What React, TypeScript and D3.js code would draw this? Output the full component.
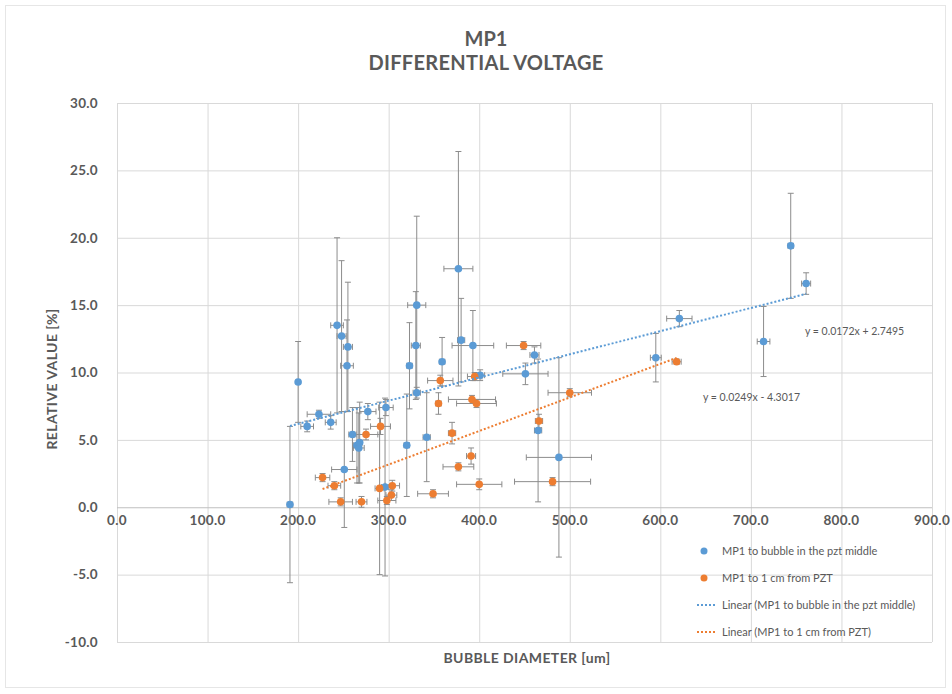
import React from "react";
import * as d3 from "d3";

// MP1 to bubble in the pzt middle
const blueX = [191, 200, 210, 223, 236, 243, 248, 255, 254, 251, 260, 265, 267, 268, 277, 297, 320, 323, 330, 331, 342, 377, 380, 393, 461, 331, 359, 401, 451, 465, 488, 595, 621, 744, 761, 714, 296];
const blueY = [0.2, 9.3, 6.0, 6.9, 6.3, 13.5, 12.7, 11.9, 10.5, 2.8, 5.4, 4.6, 4.4, 4.8, 7.1, 7.4, 4.6, 10.5, 12.0, 8.5, 5.2, 17.7, 12.4, 12.0, 11.3, 15.0, 10.8, 9.8, 9.9, 5.7, 3.7, 11.1, 14.0, 19.4, 16.6, 12.3, 1.5];
const blueXErr = [3, 2, 7, 13, 6, 7, 5, 5, 7, 14, 4, 4, 6, 3, 9, 8, 3, 3, 5, 4, 4, 16, 4, 23, 5, 10, 3, 5, 25, 4, 36, 6, 14, 3, 5, 7, 4];
const blueYErr = [5.8, 3.0, 0.4, 0.3, 0.5, 6.5, 5.6, 4.8, 3.4, 4.3, 2.0, 2.8, 2.6, 3.0, 0.6, 0.6, 3.8, 3.2, 4.0, 0.4, 3.3, 8.7, 3.1, 2.6, 0.6, 6.6, 1.8, 0.4, 0.8, 5.3, 7.4, 1.8, 0.6, 3.9, 0.8, 2.6, 6.6];

// MP1 to 1 cm from PZT
const orangeX = [227, 240, 247, 270, 275, 291, 290, 304, 303, 298, 357, 355, 392, 397, 395, 370, 391, 377, 400, 349, 449, 466, 500, 481, 618];
const orangeY = [2.2, 1.6, 0.4, 0.4, 5.4, 6.0, 1.4, 1.6, 0.9, 0.5, 9.4, 7.7, 8.0, 7.7, 9.7, 5.5, 3.8, 3.0, 1.7, 1.0, 12.0, 6.4, 8.5, 1.9, 10.8];
const orangeXErr = [8, 7, 13, 6, 13, 11, 5, 8, 6, 10, 14, 3, 26, 22, 8, 4, 5, 17, 25, 17, 19, 4, 24, 42, 5];
const orangeYErr = [0.3, 0.3, 0.3, 0.4, 0.4, 0.6, 6.4, 0.4, 0.4, 0.3, 0.4, 0.8, 0.3, 0.3, 0.3, 0.8, 0.6, 0.3, 0.4, 0.3, 0.3, 0.5, 0.3, 0.3, 0.2];

// trendline equations as printed on the chart
const blueFit = [0.0172, 2.7495];
const orangeFit = [0.0249, -4.3017];

const xTicks = [0, 100, 200, 300, 400, 500, 600, 700, 800, 900];
const yTicks = [-10, -5, 0, 5, 10, 15, 20, 25, 30];

const legendLabels = [
  "MP1 to bubble in the pzt middle",
  "MP1 to 1 cm from PZT",
  "Linear (MP1 to bubble in the pzt middle)",
  "Linear (MP1 to 1 cm from PZT)",
];

const BLUE = "#5b9bd5";
const ORANGE = "#ed7d31";
const TEXT = "#595959";
const FONT = "Lato, 'Open Sans', sans-serif";

const fmt = (v) => v.toFixed(1); // plain hyphen for negatives, like Excel

const App = () => {
  const svgRef = React.useRef(null);
  const W = 952;
  const H = 694;

  React.useEffect(() => {
    const xScale = d3.scaleLinear().domain([0, 900]).range([117, 932]);
    const yScale = d3.scaleLinear().domain([-10, 30]).range([642, 103]);

    const svg = d3.select(svgRef.current);
    svg.selectAll("*").remove();

    svg.append("rect")
      .attr("x", 5.5).attr("y", 5.5)
      .attr("width", 940).attr("height", 682)
      .attr("fill", "#fff")
      .attr("stroke", "#e6e6e6");

    // title
    svg.append("text")
      .attr("x", 486).attr("y", 46)
      .attr("text-anchor", "middle")
      .attr("font-family", FONT).attr("font-size", 20).attr("font-weight", 700)
      .attr("fill", TEXT)
      .text("MP1");
    svg.append("text")
      .attr("x", 486).attr("y", 70)
      .attr("text-anchor", "middle")
      .attr("font-family", FONT).attr("font-size", 20).attr("font-weight", 700)
      .attr("letter-spacing", 0.3)
      .attr("fill", TEXT)
      .text("DIFFERENTIAL VOLTAGE");

    // grid
    const xAxis = d3.axisBottom(xScale)
      .tickValues(xTicks)
      .tickSize(-(642 - 103))
      .tickFormat(fmt);
    const xg = svg.append("g").attr("transform", "translate(0,642)").call(xAxis);
    xg.select(".domain").remove();
    xg.selectAll(".tick line").attr("stroke", "#d9d9d9");
    xg.selectAll(".tick text").remove();

    const yAxis = d3.axisLeft(yScale)
      .tickValues(yTicks)
      .tickSize(-(932 - 117))
      .tickFormat(fmt);
    const yg = svg.append("g").attr("transform", "translate(117,0)").call(yAxis);
    yg.select(".domain").remove();
    yg.selectAll(".tick line").attr("stroke", (d) => (d === 0 ? "#bfbfbf" : "#d9d9d9"));
    yg.selectAll(".tick text")
      .attr("x", -19)
      .attr("font-family", FONT).attr("font-size", 13.5).attr("font-weight", 700)
      .attr("letter-spacing", 0.3)
      .attr("fill", TEXT);

    // x tick labels sit under the zero line
    svg.append("g").selectAll("text")
      .data(xTicks)
      .enter()
      .append("text")
      .attr("x", (d) => xScale(d))
      .attr("y", yScale(0) + 18)
      .attr("text-anchor", "middle")
      .attr("font-family", FONT).attr("font-size", 13.5).attr("font-weight", 700)
      .attr("letter-spacing", 0.3)
      .attr("fill", TEXT)
      .text(fmt);

    // axis titles
    svg.append("text")
      .attr("transform", "translate(57,379) rotate(-90)")
      .attr("text-anchor", "middle")
      .attr("font-family", FONT).attr("font-size", 14).attr("font-weight", 700)
      .attr("letter-spacing", 0.4)
      .attr("fill", TEXT)
      .text("RELATIVE VALUE [%]");
    svg.append("text")
      .attr("x", 527).attr("y", 663)
      .attr("text-anchor", "middle")
      .attr("font-family", FONT).attr("font-size", 14).attr("font-weight", 700)
      .attr("letter-spacing", 0.4)
      .attr("fill", TEXT)
      .text("BUBBLE DIAMETER [um]");

    const series = [
      { xs: blueX, ys: blueY, xe: blueXErr, ye: blueYErr, color: BLUE },
      { xs: orangeX, ys: orangeY, xe: orangeXErr, ye: orangeYErr, color: ORANGE },
    ];

    series.forEach((s) => {
      const pts = s.xs.map((x, i) => ({ x, y: s.ys[i], xe: s.xe[i], ye: s.ye[i] }));
      const eb = svg.append("g").attr("stroke", "#8c8c8c").attr("stroke-width", 1).attr("fill", "none");
      const cap = 3;
      pts.forEach((d) => {
        const cx = xScale(d.x);
        const cy = yScale(d.y);
        const x0 = xScale(d.x - d.xe);
        const x1 = xScale(d.x + d.xe);
        const y0 = yScale(d.y - d.ye);
        const y1 = yScale(d.y + d.ye);
        const p = d3.path();
        p.moveTo(x0, cy); p.lineTo(x1, cy);
        p.moveTo(x0, cy - cap); p.lineTo(x0, cy + cap);
        p.moveTo(x1, cy - cap); p.lineTo(x1, cy + cap);
        p.moveTo(cx, y0); p.lineTo(cx, y1);
        p.moveTo(cx - cap, y0); p.lineTo(cx + cap, y0);
        p.moveTo(cx - cap, y1); p.lineTo(cx + cap, y1);
        eb.append("path").attr("d", p.toString());
      });
    });

    series.forEach((s) => {
      svg.append("g").selectAll("circle")
        .data(s.xs.map((x, i) => [x, s.ys[i]]))
        .enter()
        .append("circle")
        .attr("cx", (d) => xScale(d[0]))
        .attr("cy", (d) => yScale(d[1]))
        .attr("r", 3.8)
        .attr("fill", s.color);
    });

    // linear trendlines
    const line = d3.line()
      .x((d) => xScale(d[0]))
      .y((d) => yScale(d[1]));
    const fits = [
      { fit: blueFit, xs: blueX, color: BLUE },
      { fit: orangeFit, xs: orangeX, color: ORANGE },
    ];
    fits.forEach((f) => {
      const [lo, hi] = d3.extent(f.xs);
      svg.append("path")
        .attr("d", line([[lo, f.fit[0] * lo + f.fit[1]], [hi, f.fit[0] * hi + f.fit[1]]]))
        .attr("fill", "none")
        .attr("stroke", f.color)
        .attr("stroke-width", 2)
        .attr("stroke-dasharray", "2,2");
    });

    // equations
    svg.append("text")
      .attr("x", 805).attr("y", 335)
      .attr("font-family", FONT).attr("font-size", 10.5)
      .attr("fill", TEXT)
      .text("y = 0.0172x + 2.7495");
    svg.append("text")
      .attr("x", 703).attr("y", 401)
      .attr("font-family", FONT).attr("font-size", 10.5)
      .attr("fill", TEXT)
      .text("y = 0.0249x - 4.3017");

    // legend
    const lg = svg.append("g").attr("transform", "translate(697,551)");
    legendLabels.forEach((lab, i) => {
      const y = i * 27;
      if (i < 2) {
        lg.append("circle").attr("cx", 7).attr("cy", y).attr("r", 3.5).attr("fill", i === 0 ? BLUE : ORANGE);
      } else {
        lg.append("line")
          .attr("x1", 0).attr("x2", 20).attr("y1", y).attr("y2", y)
          .attr("stroke", i === 2 ? BLUE : ORANGE)
          .attr("stroke-width", 2)
          .attr("stroke-dasharray", "2,2");
      }
      lg.append("text")
        .attr("x", 25).attr("y", y + 4)
        .attr("font-family", FONT).attr("font-size", 11)
        .attr("fill", TEXT)
        .text(lab);
    });
  }, []);

  return (
    <svg
      ref={svgRef}
      width={W}
      height={H}
      style={{ position: "absolute", left: 0, top: 0, background: "#fff" }}
    />
  );
};

export default App;
